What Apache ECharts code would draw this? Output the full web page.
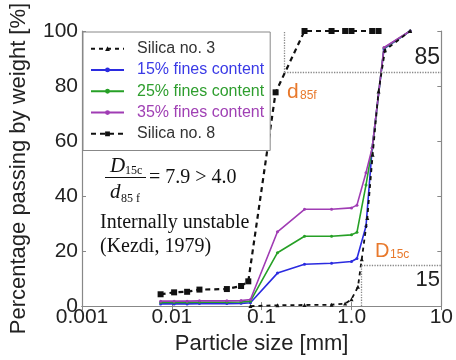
<!DOCTYPE html>
<html>
<head>
<meta charset="utf-8">
<script src="https://cdn.jsdelivr.net/npm/echarts@6/dist/echarts.min.js"></script>
<style>
  html, body { margin: 0; padding: 0; background: #fff; }
  #chart { width: 456px; height: 360px; }
</style>
</head>
<body>
<div id="chart"></div>
<script>
  // particle sizes (mm) and % passing
  var fineSizes = [0.0075, 0.0106, 0.0148, 0.0203, 0.041, 0.059, 0.075, 0.15, 0.3, 0.6, 1.0, 1.15, 1.45, 1.7, 2.3, 4.5];
  var fines15 = [0.8, 0.8, 0.8, 0.9, 0.9, 1.0, 1.2, 12, 15.2, 15.6, 16.2, 17.3, 29, 57.5, 93.5, 100];
  var fines25 = [1.3, 1.3, 1.3, 1.4, 1.4, 1.5, 1.8, 19.4, 25.4, 25.4, 25.9, 26.8, 44, 57.5, 93.8, 100];
  var fines35 = [1.8, 1.8, 1.8, 1.9, 1.9, 2.0, 2.4, 27, 35.2, 35.2, 35.7, 36.7, 48.5, 57.5, 94, 100];

  var silica8Sizes = [0.0075, 0.0106, 0.0148, 0.0203, 0.041, 0.059, 0.071, 0.143, 0.3, 0.6, 0.85, 1.0, 1.7, 2.0];
  var silica8Pass = [4.3, 5.0, 5.2, 6.0, 6.2, 7.3, 9.0, 77.7, 100, 100, 100, 100, 100, 100];

  var silica3Sizes = [0.075, 0.15, 0.3, 0.6, 0.85, 1.0, 1.18, 1.3, 1.5, 1.72, 2.0, 2.36, 4.5];
  var silica3Pass = [0, 0.3, 0.4, 0.5, 0.9, 2.5, 7, 17, 32, 55, 78, 93, 100];

  var xTickLabels = ['0.001', '0.01', '0.1', '1.0', '10'];
  var d85f = 0.18, D15c = 1.29;

  function pairs(xs, ys) {
    var out = [];
    for (var i = 0; i < xs.length; i++) out.push([xs[i], ys[i]]);
    return out;
  }

  var sans = 'Liberation Sans, Arial, sans-serif';
  var serif = 'Liberation Serif, Times New Roman, serif';
  var orange = '#e8792c';
  var cBlue = '#2b2be0', cGreen = '#26a026', cViolet = '#a03cb4';

  var dotted = { type: 'dotted', color: '#888', width: 1.3 };

  var chart = echarts.init(document.getElementById('chart'));
  chart.setOption({
    animation: false,
    grid: { left: 82, right: 11, top: 31, bottom: 49, show: false },
    xAxis: [{
      type: 'log', logBase: 10, min: 0.001, max: 10,
      name: 'Particle size [mm]', nameLocation: 'middle', nameGap: 20,
      nameTextStyle: { fontFamily: sans, fontSize: 22, color: '#222' },
      axisLine: { lineStyle: { color: '#888', width: 1.2 } },
      axisTick: { inside: true, length: 4, lineStyle: { color: '#888' } },
      minorTick: { show: false },
      splitLine: { show: false },
      axisLabel: {
        fontFamily: sans, fontSize: 21, color: '#222', margin: 1,
        formatter: function (v) { return xTickLabels[Math.round(Math.log10(v)) + 3]; }
      }
    }, {
      type: 'log', logBase: 10, min: 0.001, max: 10, position: 'top',
      axisLine: { lineStyle: { color: '#888', width: 1.2 } },
      axisTick: { inside: true, length: 4, lineStyle: { color: '#888' } },
      axisLabel: { show: false }, splitLine: { show: false }
    }],
    yAxis: [{
      type: 'value', min: 0, max: 100, interval: 20,
      name: 'Percentage passing by weight [%]', nameLocation: 'middle', nameGap: 52,
      nameTextStyle: { fontFamily: sans, fontSize: 22, color: '#222' },
      axisLine: { show: true, lineStyle: { color: '#888', width: 1.2 } },
      axisTick: { show: true, inside: true, length: 4, lineStyle: { color: '#888' } },
      splitLine: { show: false },
      axisLabel: { fontFamily: sans, fontSize: 21, color: '#222', margin: 4 }
    }, {
      type: 'value', min: 0, max: 100, interval: 20, position: 'right',
      axisLine: { show: true, lineStyle: { color: '#888', width: 1.2 } },
      axisTick: { show: true, inside: true, length: 4, lineStyle: { color: '#888' } },
      axisLabel: { show: false }, splitLine: { show: false }
    }],
    legend: {
      orient: 'vertical', left: 83, top: 32,
      backgroundColor: '#fff', borderColor: '#888', borderWidth: 1,
      padding: [6, 6, 6, 7],
      itemWidth: 33, itemHeight: 6, itemGap: 0,
      textStyle: { fontFamily: sans, fontSize: 16, lineHeight: 21.3, padding: [0, 0, 0, 8] },
      data: [
        { name: 'Silica no. 3', textStyle: { color: '#333' } },
        { name: '15% fines content', textStyle: { color: '#3a3ae6' } },
        { name: '25% fines content', textStyle: { color: '#2e9e2e' } },
        { name: '35% fines content', textStyle: { color: '#a040b4' } },
        { name: 'Silica no. 8', textStyle: { color: '#333' } }
      ]
    },
    series: [{
      name: 'Silica no. 8', type: 'line', data: pairs(silica8Sizes, silica8Pass),
      symbol: 'rect', symbolSize: 6, z: 2,
      itemStyle: { color: '#111' },
      lineStyle: { color: '#111', width: 2.2, type: [5, 4] },
      markLine: {
        silent: true, symbol: 'none', label: { show: false },
        lineStyle: dotted,
        data: [
          [{ coord: [d85f, 85] }, { coord: [10, 85] }],
          [{ coord: [d85f, 85] }, { coord: [d85f, 100] }],
          [{ coord: [D15c, 15] }, { coord: [10, 15] }],
          [{ coord: [D15c, 0] }, { coord: [D15c, 15] }]
        ]
      }
    }, {
      name: '15% fines content', type: 'line', data: pairs(fineSizes, fines15),
      symbol: 'circle', symbolSize: 3, z: 3,
      itemStyle: { color: cBlue }, lineStyle: { color: cBlue, width: 1.6 }
    }, {
      name: '25% fines content', type: 'line', data: pairs(fineSizes, fines25),
      symbol: 'circle', symbolSize: 3, z: 3,
      itemStyle: { color: cGreen }, lineStyle: { color: cGreen, width: 1.6 }
    }, {
      name: '35% fines content', type: 'line', data: pairs(fineSizes, fines35),
      symbol: 'circle', symbolSize: 3, z: 3,
      itemStyle: { color: cViolet }, lineStyle: { color: cViolet, width: 1.6 }
    }, {
      name: 'Silica no. 3', type: 'line', data: pairs(silica3Sizes, silica3Pass),
      symbol: 'triangle', symbolSize: 4, z: 4,
      itemStyle: { color: '#111' },
      lineStyle: { color: '#111', width: 1.8, type: [4, 4] }
    }],
    graphic: [
      // D15c / d85f = 7.9 > 4.0
      { type: 'text', style: { text: 'D', x: 110, y: 166, textVerticalAlign: 'middle', font: 'italic 21px ' + serif, fill: '#111' } },
      { type: 'text', style: { text: '15c', x: 125, y: 171, textVerticalAlign: 'middle', font: '12px ' + serif, fill: '#111' } },
      { type: 'line', shape: { x1: 105, y1: 177.5, x2: 146, y2: 177.5 }, style: { stroke: '#111', lineWidth: 1 } },
      { type: 'text', style: { text: 'd', x: 110, y: 192, textVerticalAlign: 'middle', font: 'italic 21px ' + serif, fill: '#111' } },
      { type: 'text', style: { text: '85 f', x: 121, y: 199, textVerticalAlign: 'middle', font: '12px ' + serif, fill: '#111' } },
      { type: 'text', style: { text: '= 7.9 > 4.0', x: 149, y: 177.5, textVerticalAlign: 'middle', font: '20px ' + serif, fill: '#111' } },
      { type: 'text', style: { text: 'Internally unstable', x: 100, y: 223, textVerticalAlign: 'middle', font: '20px ' + serif, fill: '#111' } },
      { type: 'text', style: { text: '(Kezdi, 1979)', x: 100, y: 247, textVerticalAlign: 'middle', font: '20px ' + serif, fill: '#111' } },
      // orange labels
      { type: 'text', style: { text: 'd', x: 287, y: 92, textVerticalAlign: 'middle', font: '21px ' + sans, fill: orange } },
      { type: 'text', style: { text: '85f', x: 300, y: 96, textVerticalAlign: 'middle', font: '12px ' + sans, fill: orange } },
      { type: 'text', style: { text: 'D', x: 375, y: 251, textVerticalAlign: 'middle', font: '20px ' + sans, fill: orange } },
      { type: 'text', style: { text: '15c', x: 390, y: 255, textVerticalAlign: 'middle', font: '12px ' + sans, fill: orange } },
      // reference values
      { type: 'text', style: { text: '85', x: 440, y: 58, textAlign: 'right', textVerticalAlign: 'middle', font: '23px ' + sans, fill: '#222' } },
      { type: 'text', style: { text: '15', x: 440, y: 280, textAlign: 'right', textVerticalAlign: 'middle', font: '22px ' + sans, fill: '#222' } }
    ]
  });
</script>
</body>
</html>
